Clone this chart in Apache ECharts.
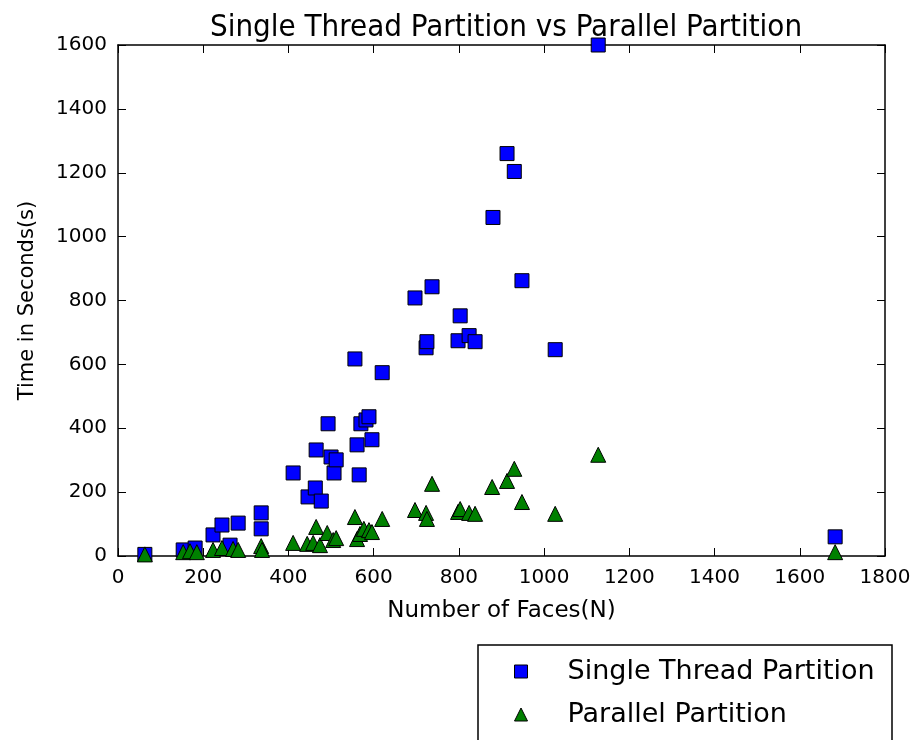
<!DOCTYPE html>
<html>
<head>
<meta charset="utf-8">
<script src="https://cdn.jsdelivr.net/npm/echarts@6/dist/echarts.min.js"></script>
<style>html,body{margin:0;padding:0;background:#fff;}#c{width:917px;height:740px;}</style>
</head>
<body>
<div id="c"></div>
<script>
const singleX = [63,153,181,223,244,263,282,336,336,411,446,463,465,477,493,500,507,512,556,561,566,570,582,589,596,620,697,723,725,737,803,798,824,838,880,913,930,948,1026,1127,1683];
const singleY = [5,19,25,66,97,34,103,135,85,260,185,213,332,172,414,310,260,301,617,348,254,414,426,436,364,574,808,652,671,843,752,674,690,671,1060,1260,1204,862,646,1600,60];
const parallelX = [63,153,169,185,223,244,270,282,336,338,411,444,465,458,474,491,505,512,556,561,568,577,589,596,620,697,723,725,737,798,803,824,838,878,913,930,948,1026,1127,1683];
const parallelY = [5,12,15,12,19,25,22,19,31,19,41,38,91,41,34,72,50,56,122,53,69,85,81,75,116,144,135,116,226,138,147,135,132,216,235,273,169,132,317,12];
const xTicks = {min:0, max:1800, interval:200};
const yTicks = {min:0, max:1600, interval:200};
const titleText = 'Single Thread Partition vs Parallel Partition';
const xName = 'Number of Faces(N)';
const yName = 'Time in Seconds(s)';
const seriesNames = ['Single Thread Partition','Parallel Partition'];

const font = 'DejaVu Sans';
const plain = v => String(v);
const axisCommon = {
  axisLine:{show:true, onZero:false, lineStyle:{color:'#000', width:1.5}},
  axisTick:{show:true, inside:true, length:8, lineStyle:{color:'#000', width:1}},
  splitLine:{show:false}
};
const legendCommon = {
  orient:'vertical', left:514, padding:0,
  itemWidth:13, itemHeight:13,
  textStyle:{fontFamily:font, fontSize:27, color:'#000', padding:[0,0,0,35]}
};
const chart = echarts.init(document.getElementById('c'), null, {renderer:'canvas'});
chart.setOption({
  backgroundColor:'#fff',
  animation:false,
  title:{text:titleText, left:501, top:7, textAlign:'center',
    textStyle:{fontFamily:'DejaVu Sans Condensed', fontSize:31, fontWeight:'normal', color:'#000'}},
  grid:{left:118, right:32, top:45, bottom:184},
  graphic:[{type:'rect', z:0, shape:{x:478, y:645, width:414, height:130},
    style:{fill:'#fff', stroke:'#000', lineWidth:1.5}}],
  xAxis:[
    Object.assign({type:'value', position:'bottom', min:xTicks.min, max:xTicks.max, interval:xTicks.interval,
      name:xName, nameLocation:'middle', nameGap:44,
      nameTextStyle:{fontFamily:font, fontSize:23, color:'#000'},
      axisLabel:{fontFamily:font, fontSize:20, color:'#000', margin:12, formatter:plain}}, axisCommon),
    Object.assign({type:'value', position:'top', min:xTicks.min, max:xTicks.max, interval:xTicks.interval,
      axisLabel:{show:false}}, axisCommon)
  ],
  yAxis:[
    Object.assign({type:'value', position:'left', min:yTicks.min, max:yTicks.max, interval:yTicks.interval,
      name:yName, nameLocation:'middle', nameGap:80,
      nameTextStyle:{fontFamily:font, fontSize:21, color:'#000'},
      axisLabel:{fontFamily:font, fontSize:20, color:'#000', margin:11, formatter:plain}}, axisCommon),
    Object.assign({type:'value', position:'right', min:yTicks.min, max:yTicks.max, interval:yTicks.interval,
      axisLabel:{show:false}}, axisCommon)
  ],
  legend:[
    Object.assign({top:658, data:[{name:seriesNames[0], icon:'rect', itemStyle:{color:'#0000ff', borderColor:'#000', borderWidth:1}}]}, legendCommon),
    Object.assign({top:701, data:[{name:seriesNames[1], icon:'triangle', itemStyle:{color:'#008000', borderColor:'#000', borderWidth:1}}]}, legendCommon)
  ],
  series:[
    {name:seriesNames[0], type:'scatter', symbol:'rect', symbolSize:14, clip:true,
      itemStyle:{color:'#0000ff', borderColor:'#000', borderWidth:1, opacity:1},
      data:singleX.map((x,i)=>[x, singleY[i]])},
    {name:seriesNames[1], type:'scatter', symbol:'triangle', symbolSize:15, clip:true,
      itemStyle:{color:'#008000', borderColor:'#000', borderWidth:1, opacity:1},
      data:parallelX.map((x,i)=>[x, parallelY[i]])}
  ]
});
</script>
</body>
</html>
